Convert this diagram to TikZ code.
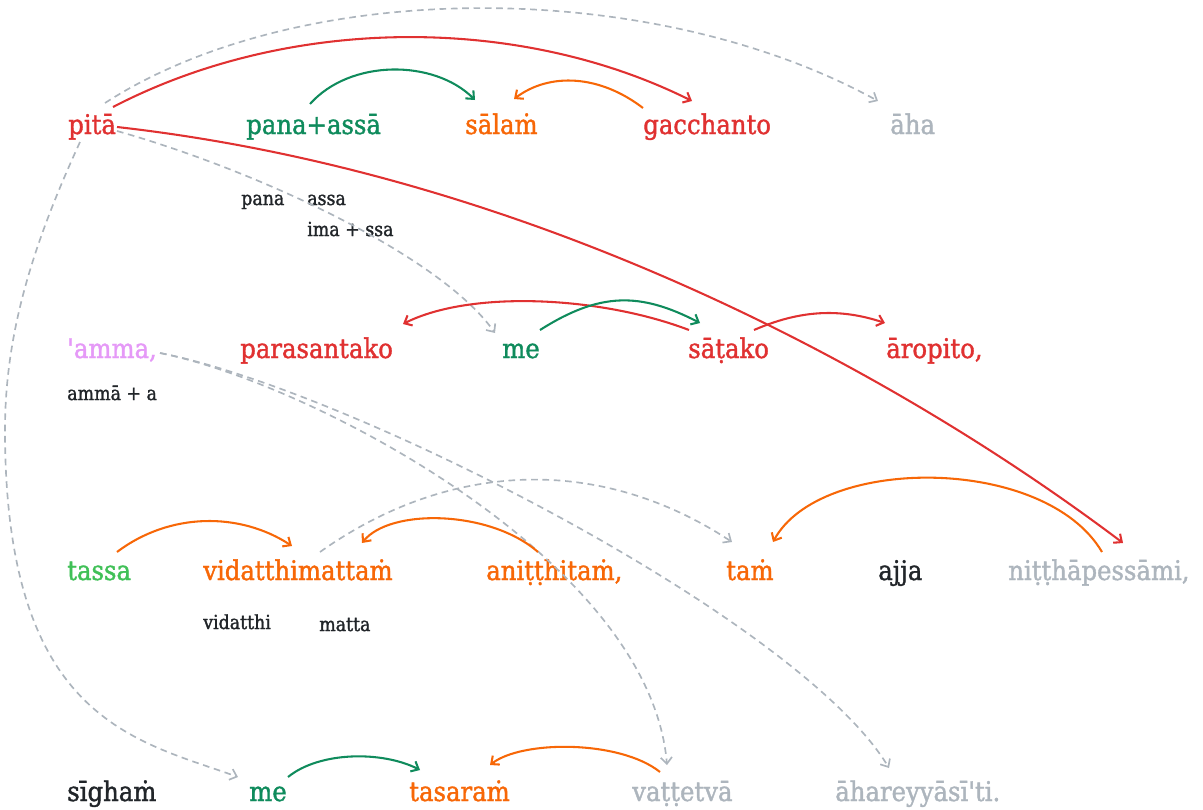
\documentclass[tikz,border=0pt]{standalone}
\usepackage{fontspec}
\setmainfont{DejaVu Serif Condensed}
\newfontfamily\wordface[FakeBold=1.4]{DejaVu Serif Condensed}
\newfontfamily\glossface[FakeBold=1.6]{DejaVu Serif Condensed}
\usetikzlibrary{arrows.meta,calc}
\definecolor{wred}{HTML}{E03131}
\definecolor{worange}{HTML}{F76707}
\definecolor{wgreen}{HTML}{0F8B5C}
\definecolor{wlime}{HTML}{40C057}
\definecolor{wpink}{HTML}{E599F7}
\definecolor{wgray}{HTML}{ADB5BD}
\definecolor{wink}{HTML}{212529}
\newcommand{\squote}{{\char"27}}
\begin{document}
\begin{tikzpicture}[x=0.75pt,y=-0.75pt,
  word/.style={anchor=base west,inner sep=0pt,font=\wordface\fontsize{20.3}{22}\selectfont},
  gloss/.style={anchor=base west,inner sep=0pt,font=\glossface\fontsize{14.5}{16}\selectfont,text=wink},
  link/.style={line width=1.55pt,-{Straight Barb[length=4.8pt,width=8.5pt]}},
  redlink/.style={link,draw=wred},
  orangelink/.style={link,draw=worange},
  greenlink/.style={link,draw=wgreen},
  graylink/.style={line width=1.25pt,draw=wgray,dash pattern=on 5pt off 3.5pt,
    -{Straight Barb[length=4.8pt,width=8.5pt]}},
]
\useasboundingbox (0,0) rectangle (1203,810);

% first line
\node[word,text=wred]    (pita)      at (68,134)  {pitā};
\node[word,text=wgreen]  (panaassa)  at (246,134) {pana+assā};
\node[word,text=worange] (salam)     at (465,134) {sālaṁ};
\node[word,text=wred]    (gacchanto) at (643,134) {gacchanto};
\node[word,text=wgray]   (aha)       at (890,134) {āha};
\node[gloss] (gpana) at (241,205) {pana};
\node[gloss] (gassa) at (307,205) {assa};
\node[gloss] (gima)  at (307,236) {ima + ssa};

% second line
\node[word,text=wpink]   (amma)        at (67,358)  {\squote amma,};
\node[word,text=wred]    (parasantako) at (240,358) {parasantako};
\node[word,text=wgreen]  (meA)         at (502,358) {me};
\node[word,text=wred]    (sataka)      at (688,358) {sāṭako};
\node[word,text=wred]    (aropito)     at (886,358) {āropito,};
\node[gloss] (gamma) at (67,400) {ammā + a};

% third line
\node[word,text=wlime]   (tassa)      at (67,580)   {tassa};
\node[word,text=worange] (vidatthi)   at (203,580)  {vidatthimattaṁ};
\node[word,text=worange] (anitthitam) at (486,580)  {aniṭṭhitaṁ,};
\node[word,text=worange] (tam)        at (726,580)  {taṁ};
\node[word,text=wink]    (ajja)       at (878,580)  {ajja};
\node[word,text=wgray]   (nittha)     at (1008,580) {niṭṭhāpessāmi,};
\node[gloss] (gvid)   at (203,629) {vidatthi};
\node[gloss] (gmatta) at (319,631) {matta};

% fourth line
\node[word,text=wink]    (sigham)   at (67,801)  {sīghaṁ};
\node[word,text=wgreen]  (meB)      at (249,801) {me};
\node[word,text=worange] (tasaram)  at (409,801) {tasaraṁ};
\node[word,text=wgray]   (vattetva) at (632,801) {vaṭṭetvā};
\node[word,text=wgray]   (ahareyya) at (835,801) {āhareyyāsī\squote ti.};

% arcs above the first line
\draw[graylink] ([shift={(37,-31)}]pita.base west) .. controls (300,-23) and (652,-23) .. ([shift={(-12,-33)}]aha.base west);
\draw[redlink] ([shift={(45,-27)}]pita.base west) .. controls (290,15) and (520,15) .. ([shift={(49,-33)}]gacchanto.base west);
\draw[greenlink] ([shift={(64,-30)}]panaassa.base west) .. controls (350,59) and (434,59) .. ([shift={(10,-34)}]salam.base west);
\draw[orangelink] ([shift={(0,-26)}]gacchanto.base west) .. controls (600,75) and (550,72) .. ([shift={(49,-35)}]salam.base west);

% long links leaving pitā
\draw[redlink] ([shift={(49,-7)}]pita.base west) .. controls (517,172) and (880,360) .. ([shift={(115,-37)}]nittha.base west);
\draw[graylink] ([shift={(49,-3)}]pita.base west) .. controls (255,170) and (440,255) .. ([shift={(-7,-25)}]meA.base west);
\coordinate (leftbend) at (5,430);
\draw[graylink] ([shift={(12,8)}]pita.base west) .. controls (35,240) and (5,330) .. (leftbend)
  .. controls (5,720) and (135,740) .. ([shift={(-11,-24)}]meB.base west);

% arcs above the second line
\draw[redlink] ([shift={(1,-28)}]sataka.base west) .. controls (600,296) and (470,290) .. ([shift={(163,-34)}]parasantako.base west);
\draw[greenlink] ([shift={(38,-28)}]meA.base west) .. controls (600,292) and (640,292) .. ([shift={(12,-35)}]sataka.base west);
\draw[redlink] ([shift={(66,-28)}]sataka.base west) .. controls (800,310) and (840,308) .. ([shift={(-1,-35)}]aropito.base west);

% links leaving 'amma,
\draw[graylink] ([shift={(93,-5)}]amma.base west) .. controls (310,383) and (650,560) .. ([shift={(35,-36)}]vattetva.base west);
\draw[graylink] ([shift={(93,-5)}]amma.base west) .. controls (350,390) and (800,620) .. ([shift={(54,-33)}]ahareyya.base west);

% arcs above the third line
\draw[orangelink] ([shift={(50,-28)}]tassa.base west) .. controls (170,512) and (240,512) .. ([shift={(89,-34)}]vidatthi.base west);
\draw[orangelink] ([shift={(52,-28)}]anitthitam.base west) .. controls (490,510) and (390,508) .. ([shift={(159,-37)}]vidatthi.base west);
\draw[graylink] ([shift={(117,-28)}]vidatthi.base west) .. controls (450,460) and (600,455) .. ([shift={(6,-38)}]tam.base west);
\draw[orangelink] ([shift={(94,-28)}]nittha.base west) .. controls (1045,455) and (820,455) .. ([shift={(47,-38)}]tam.base west);

% arcs above the fourth line
\draw[greenlink] ([shift={(39,-24)}]meB.base west) .. controls (320,751) and (383,751) .. ([shift={(11,-31)}]tasaram.base west);
\draw[orangelink] ([shift={(28,-29)}]vattetva.base west) .. controls (620,740) and (522,740) .. ([shift={(81,-36)}]tasaram.base west);
\end{tikzpicture}
\end{document}
